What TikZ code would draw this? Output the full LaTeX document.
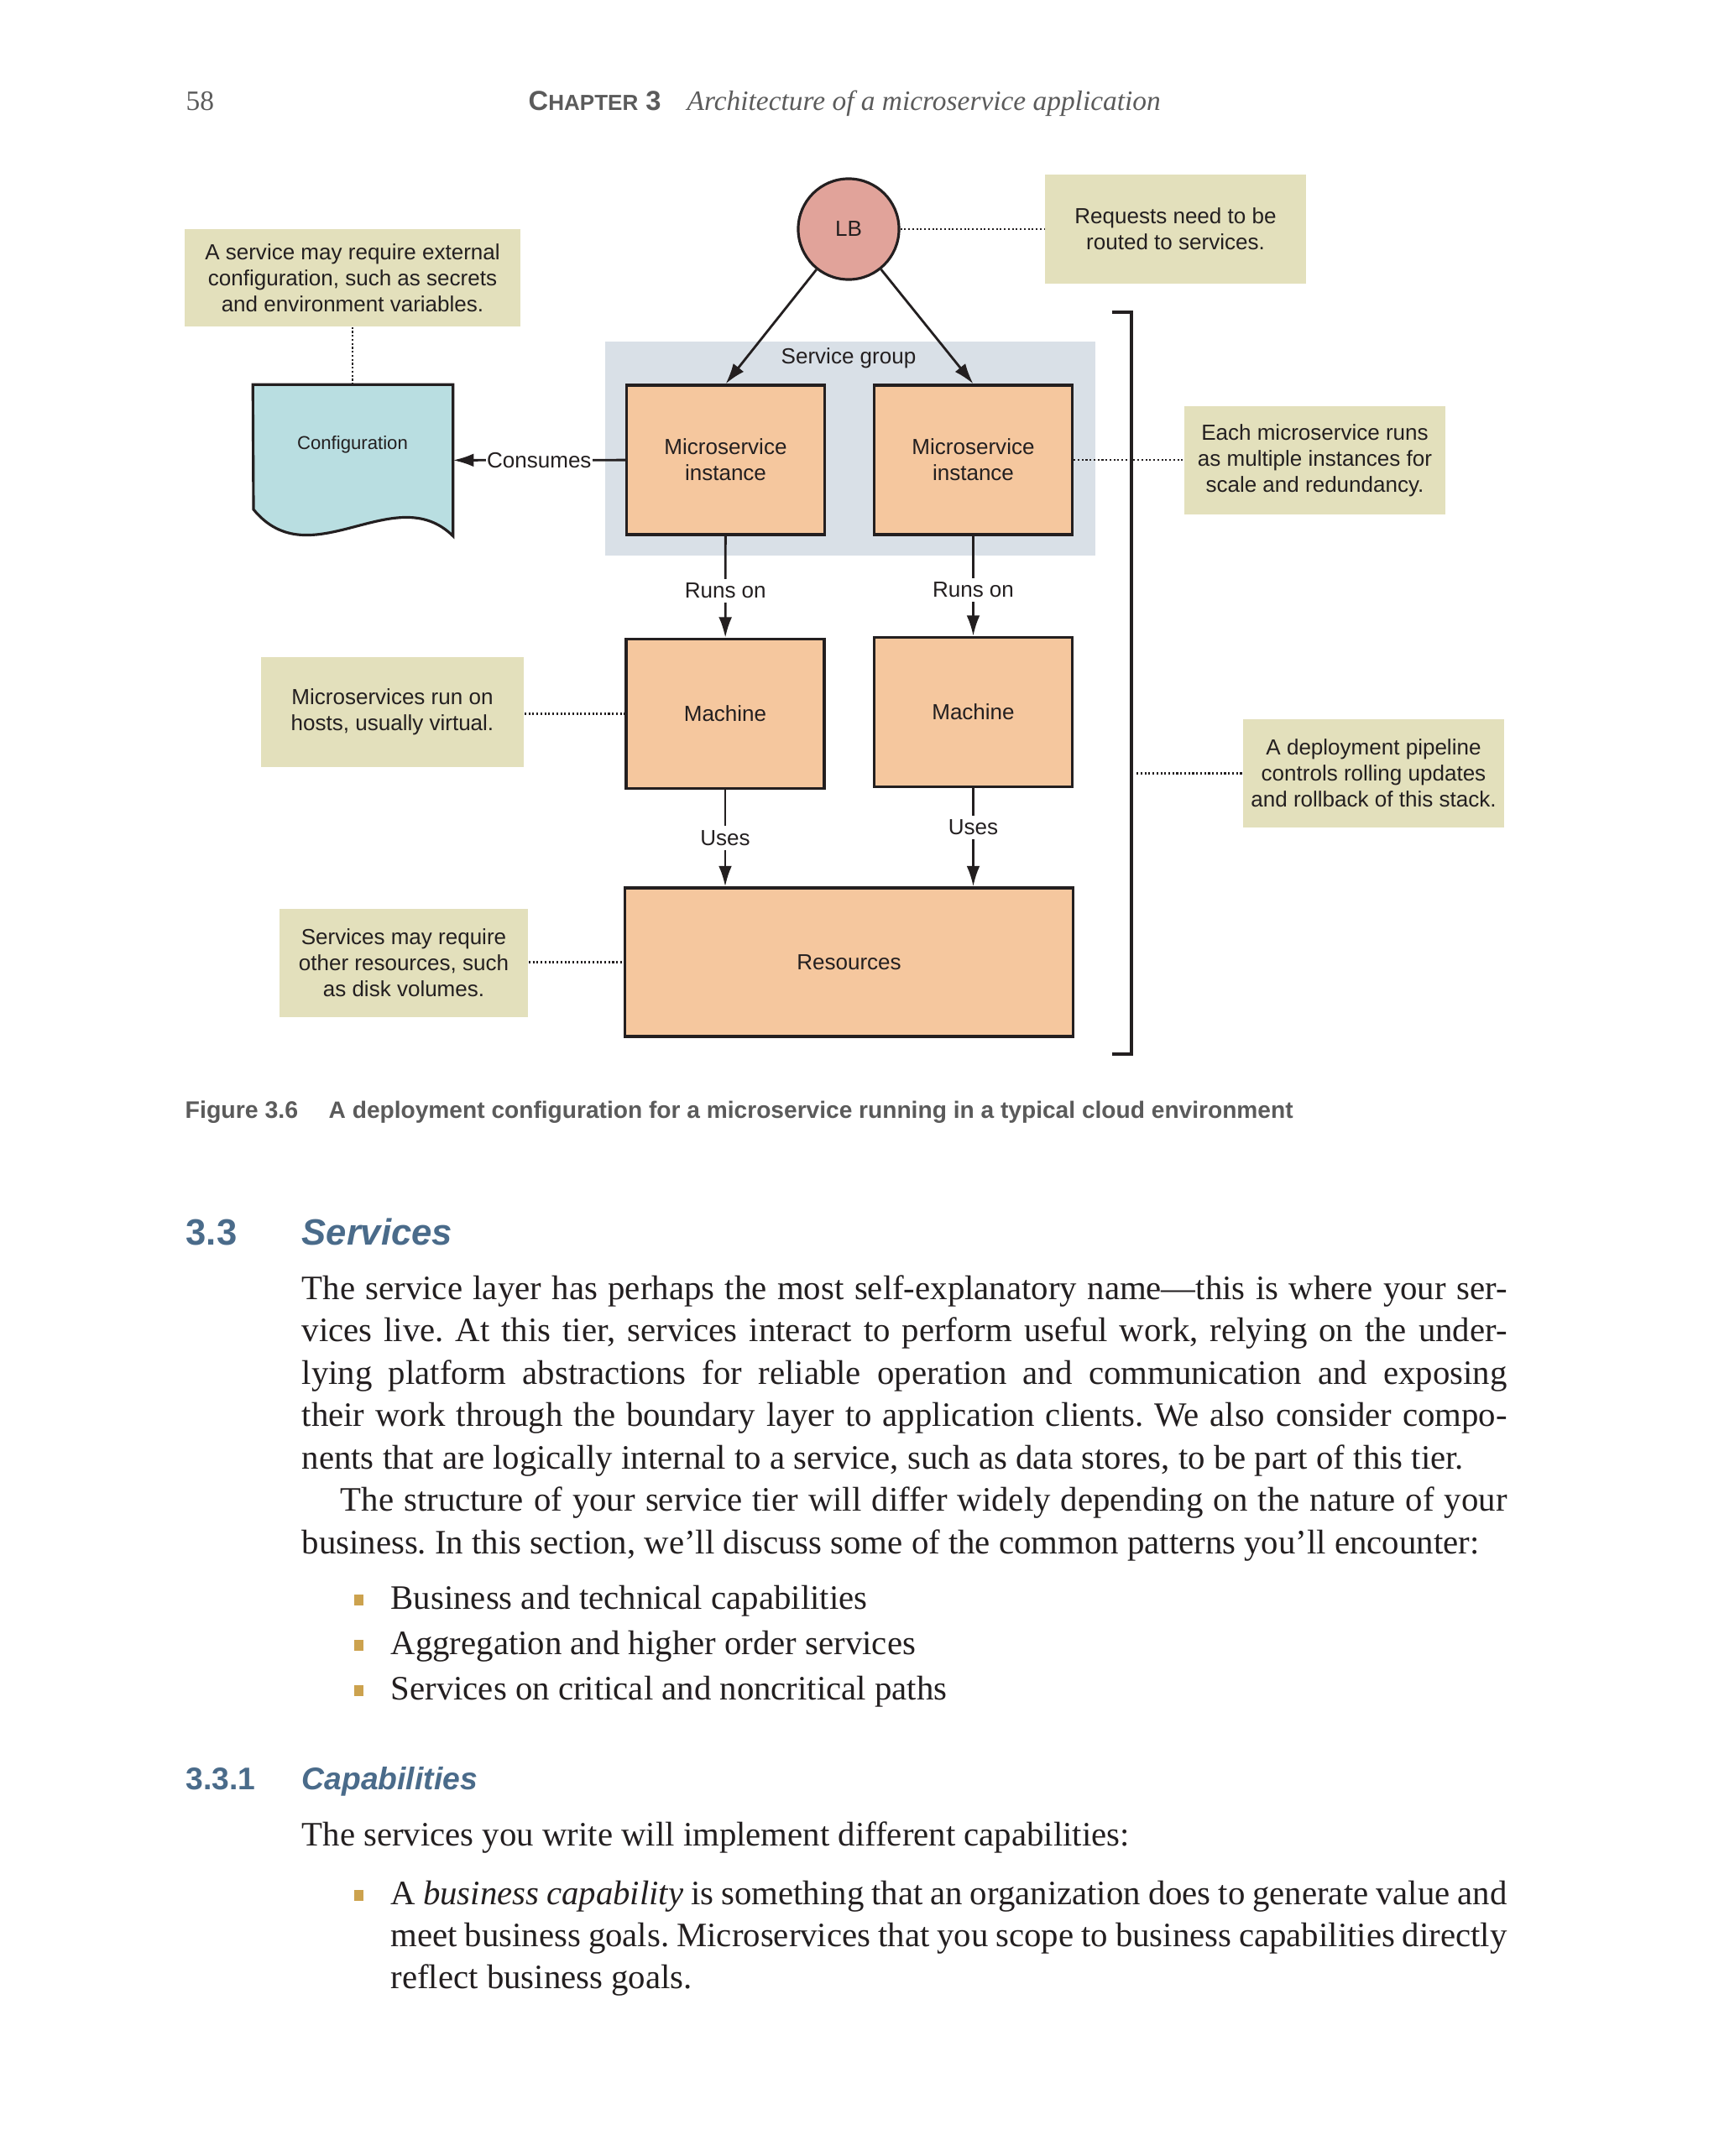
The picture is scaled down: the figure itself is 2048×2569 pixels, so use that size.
\documentclass[tikz,border=0pt]{standalone}
\usepackage{fontspec}
\setmainfont{Liberation Serif}
\newfontfamily\dsans{Liberation Sans}
\usetikzlibrary{arrows.meta,calc}
\definecolor{ink}{HTML}{231F20}
\definecolor{boxor}{HTML}{F5C79E}
\definecolor{lbc}{HTML}{E1A39A}
\definecolor{notec}{HTML}{E3E0BC}
\definecolor{cfgc}{HTML}{B9DEE1}
\definecolor{grpc}{HTML}{D9E0E7}
\definecolor{headc}{HTML}{4A6B8A}
\definecolor{goldc}{HTML}{CCA24E}
\definecolor{capc}{HTML}{5B5B5B}
\definecolor{bodyc}{HTML}{231F20}
\frenchspacing
\tikzset{
  ptxt/.style={font=\dsans\fontsize{7.4}{8.8}\selectfont, text=ink},
  ubox/.style={ptxt, draw=ink, line width=0.9pt, fill=boxor, minimum width=2.36cm, minimum height=1.78cm, inner sep=0pt, align=center},
  note/.style={ptxt, fill=notec, inner sep=0pt, align=center},
  dotc/.style={draw=ink, line width=0.6pt, dash pattern=on 0.6pt off 0.75pt},
  arr/.style={draw=ink, line width=0.8pt, -{Latex[length=7pt,width=4.5pt]}},
  lbl/.style={ptxt, fill=white, inner sep=1.5pt},
  body/.style={font=\fontsize{11.6}{14}\selectfont, text=bodyc, inner sep=0pt, anchor=base west},
  bul/.style={fill=goldc, minimum width=0.11cm, minimum height=0.13cm, inner sep=0pt},
  headA/.style={font=\dsans\bfseries\fontsize{12.4}{14}\selectfont, text=headc, inner sep=0pt, anchor=base west},
  headB/.style={font=\dsans\bfseries\fontsize{10.6}{13}\selectfont, text=headc, inner sep=0pt, anchor=base west},
  hdr/.style={text=capc, inner sep=0pt, anchor=base west},
}
\begin{document}
\begin{tikzpicture}[x=0.01cm,y=-0.01cm]
\useasboundingbox (0,0) rectangle (2048,2569);
\fill[white] (0,0) rectangle (2048,2569);

% header
\node[hdr, font=\fontsize{9.5}{11}\selectfont] (pg) at (221,131) {58};
\node[hdr, font=\dsans\bfseries] (chap) at (629,131) {{\fontsize{9.3}{11}\selectfont C}{\fontsize{7.4}{11}\selectfont HAPTER}{\fontsize{9.3}{11}\selectfont\ 3}};
\node[hdr, font=\itshape\fontsize{9.5}{11}\selectfont] (ctitle) at (818,131) {Architecture of a microservice application};

% service group
\fill[grpc] (721,407) rectangle (1305,662);
\node[ptxt] (sgl) at (1011,427) {Service group};

% boxes
\node[ubox] (inst1) at (864.5,548) {Microservice\\instance};
\node[ubox] (inst2) at (1159.5,548) {Microservice\\instance};
\node[ubox] (m1) at (864,850.5) {Machine};
\node[ubox] (m2) at (1159.5,848.5) {Machine};
\node[ubox, minimum width=5.33cm, minimum height=1.77cm] (res) at (1011.5,1146.5) {Resources};

% load balancer
\node[ptxt, circle, draw=ink, line width=0.9pt, fill=lbc, minimum size=1.2cm, inner sep=0pt] (lb) at (1011,273) {LB};

% configuration document
\node[minimum width=2.37cm, minimum height=1.79cm, inner sep=0pt] (cfg) at (420.5,548.5) {};
\draw[ink, line width=0.9pt, fill=cfgc] (cfg.south east) -- (cfg.north east) -- (cfg.north west) -- (302,607)
  .. controls (370,690) and (470,570) .. (cfg.south east) -- cycle;
\node[ptxt, font=\dsans\fontsize{6.3}{7.5}\selectfont] (cfgl) at (420,530) {Configuration};

% notes
\node[note, minimum width=4cm, minimum height=1.16cm] (n1) at (420,331) {A service may require external\\configuration, such as secrets\\and environment variables.};
\node[note, minimum width=3.11cm, minimum height=1.30cm] (n2) at (1400.5,273) {Requests need to be\\routed to services.};
\node[note, minimum width=3.11cm, minimum height=1.29cm] (n3) at (1566.5,548.5) {Each microservice runs\\as multiple instances for\\scale and redundancy.};
\node[note, minimum width=3.13cm, minimum height=1.30cm] (n4) at (467.5,848.5) {Microservices run on\\hosts, usually virtual.};
\node[note, minimum width=3.11cm, minimum height=1.29cm] (n5) at (1636.5,921.5) {A deployment pipeline\\controls rolling updates\\and rollback of this stack.};
\node[note, minimum width=2.96cm, minimum height=1.29cm] (n6) at (481,1147.5) {Services may require\\other resources, such\\as disk volumes.};

% bracket
\coordinate (bk1) at (1325,372);
\coordinate (bk2) at (1348,372);
\coordinate (bk3) at (1348,1256);
\coordinate (bk4) at (1325,1256);
\coordinate (bkm) at (1354,921.5);
\draw[ink, line width=0.9pt] (bk1) -- (bk2) -- (bk3) -- (bk4);

% connectors
\draw[arr] (lb) -- (inst1.north);
\draw[arr] (lb) -- (inst2.north);
\draw[arr] (inst1) -- node[lbl, inner sep=0.4pt]{Consumes} (cfg);
\draw[arr] (inst1) -- node[lbl, pos=0.54]{Runs on} (m1);
\draw[arr] (inst2) -- node[lbl, pos=0.54]{Runs on} (m2);
\draw[arr] (m1) -- node[lbl]{Uses} (m1 |- res.north);
\draw[arr] (m2) -- node[lbl, pos=0.4]{Uses} (m2 |- res.north);

\draw[dotc] (lb) -- (n2);
\draw[dotc] (n1.south) -- (n1.south |- cfg.north);
\draw[dotc] (inst2.east) -- (inst2.east -| n3.west);
\draw[dotc] (n4.east |- m1.west) -- (m1.west);
\draw[dotc] (n6.east |- res.west) -- (res.west);
\draw[dotc] (bkm) -- (bkm -| n5.west);

% caption
\node[hdr, font=\dsans\bfseries\fontsize{8.1}{9.5}\selectfont] (capn) at (220,1332) {Figure 3.6};
\node[hdr, font=\dsans\bfseries\fontsize{8.0}{9.5}\selectfont] (capt) at (391,1332) {A deployment configuration for a microservice running in a typical cloud environment};

% section heading
\node[headA] (h1n) at (221,1483) {3.3};
\node[headA] (h1t) at (359,1483) {\itshape Services};

% body text
\node[body] (l1) at (359,1548) {\makebox[14.35cm][s]{The service layer has perhaps the most self-explanatory name—this is where your ser-}};
\node[body] (l2) at (359,1598.5) {\makebox[14.35cm][s]{vices live. At this tier, services interact to perform useful work, relying on the under-}};
\node[body] (l3) at (359,1649) {\makebox[14.35cm][s]{lying platform abstractions for reliable operation and communication and exposing}};
\node[body] (l4) at (359,1699.5) {\makebox[14.35cm][s]{their work through the boundary layer to application clients. We also consider compo-}};
\node[body] (l5) at (359,1750) {nents that are logically internal to a service, such as data stores, to be part of this tier.};
\node[body] (l6) at (405,1800.5) {\makebox[13.89cm][s]{The structure of your service tier will differ widely depending on the nature of your}};
\node[body] (l7) at (359,1851) {business. In this section, we’ll discuss some of the common patterns you’ll encounter:};

\node[bul] (b1) at (427,1906) {};
\node[body] (t1) at (465,1917) {Business and technical capabilities};
\node[bul] (b2) at (427,1960) {};
\node[body] (t2) at (465,1971) {Aggregation and higher order services};
\node[bul] (b3) at (427,2014) {};
\node[body] (t3) at (465,2025) {Services on critical and noncritical paths};

\node[headB] (h2n) at (221,2132) {3.3.1};
\node[headB] (h2t) at (359,2132) {\itshape Capabilities};

\node[body] (l8) at (359,2199) {The services you write will implement different capabilities:};
\node[bul] (b4) at (427,2258) {};
\node[body] (l9) at (465,2269) {\makebox[13.29cm][s]{A \textit{business capability} is something that an organization does to generate value and}};
\node[body] (l10) at (465,2319) {\makebox[13.29cm][s]{meet business goals. Microservices that you scope to business capabilities directly}};
\node[body] (l11) at (465,2369) {reflect business goals.};
\end{tikzpicture}
\end{document}
